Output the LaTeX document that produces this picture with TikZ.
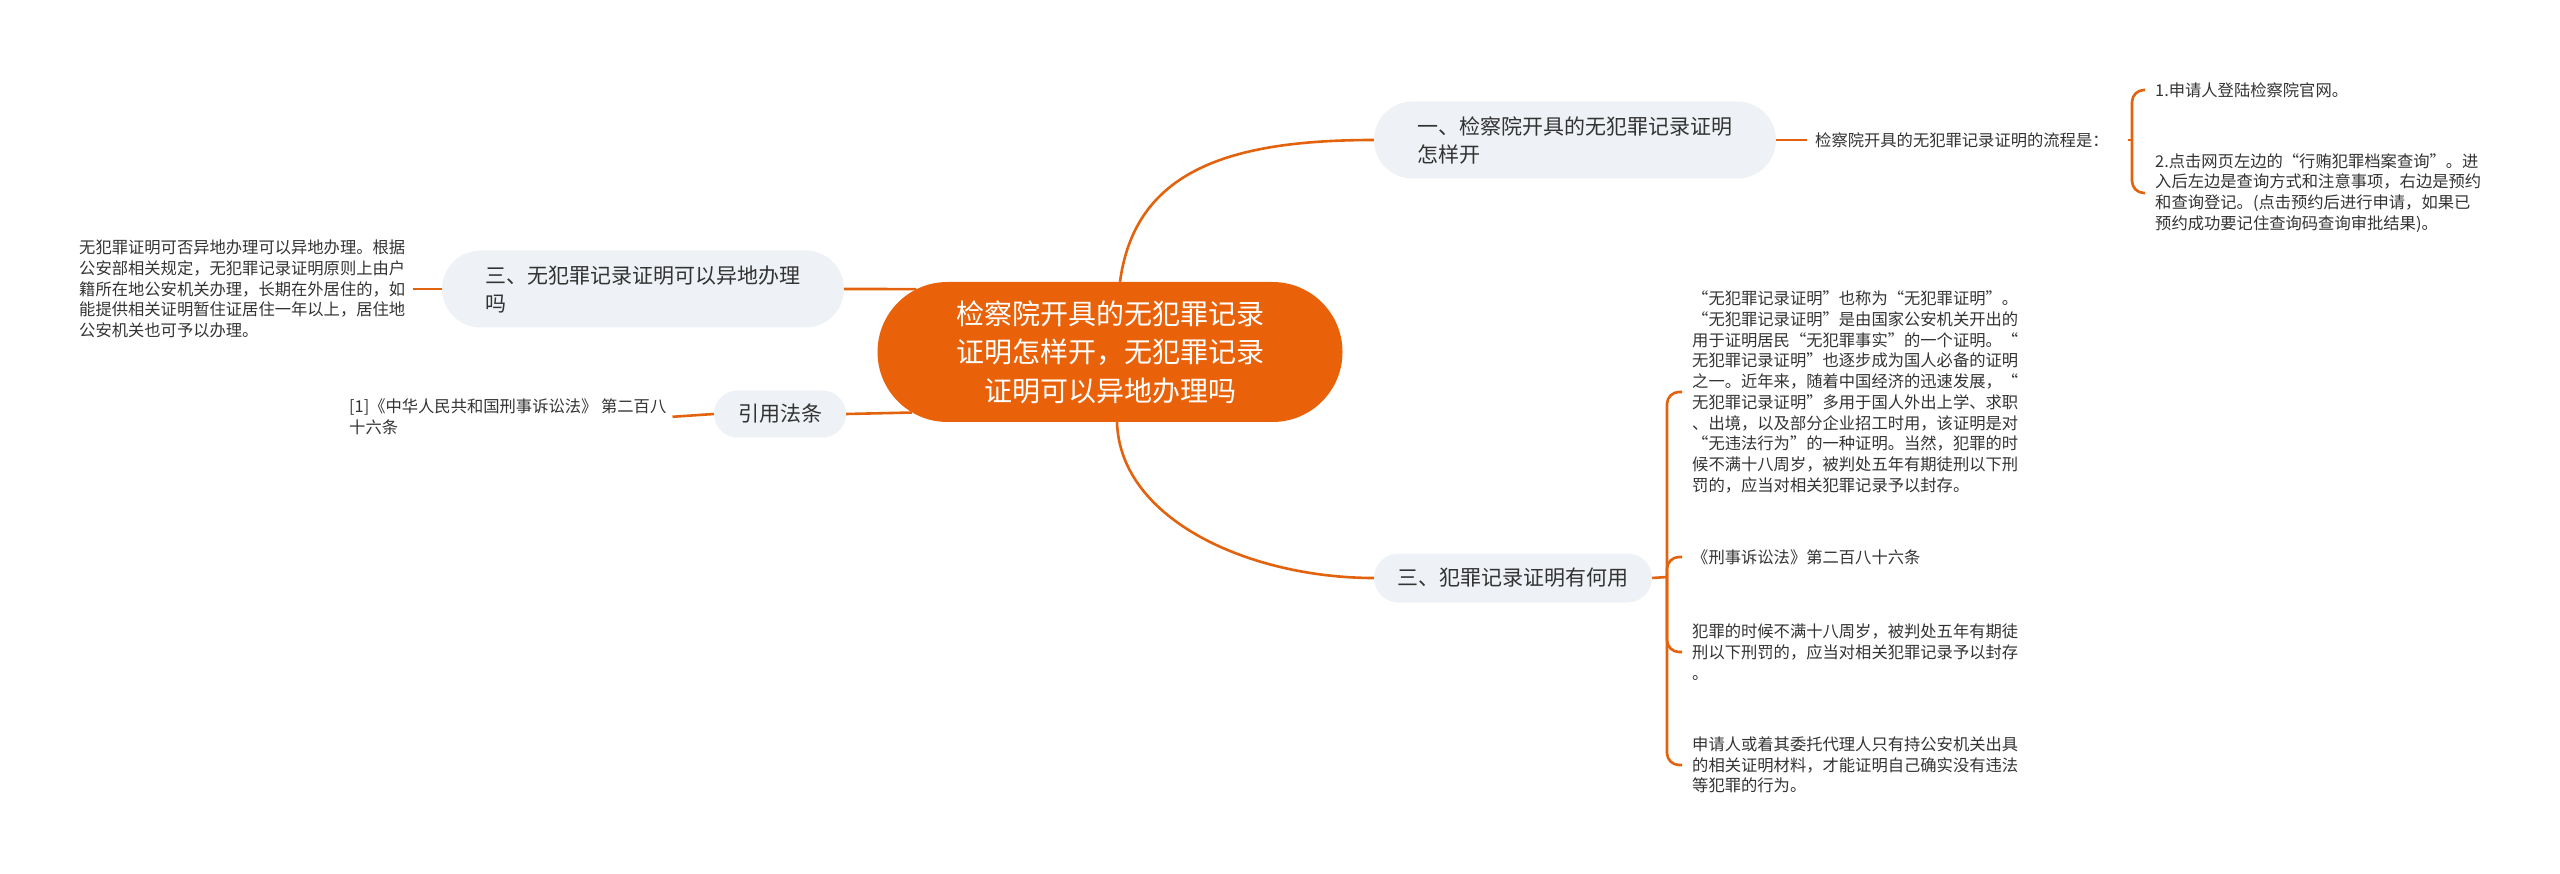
\documentclass[tikz,border=0pt]{standalone}
\usepackage{fontspec}
\setmainfont{Noto Sans CJK SC}
\usetikzlibrary{shapes.misc}
\definecolor{lineorange}{HTML}{E2620E}
\definecolor{rootorange}{HTML}{E9620A}
\definecolor{topicgray}{HTML}{EEF1F5}
\definecolor{textgray}{HTML}{333333}

\begin{document}
\begin{tikzpicture}[x=1pt,y=-1pt,
    link/.style={draw=lineorange,line width=2.6pt},
    brace/.style={link,rounded corners=12pt,shorten >=7pt},
    root/.style={rounded rectangle,fill=rootorange,text=white,inner xsep=0pt,align=center,font=\fontsize{28}{38.5}\selectfont},
    topic/.style={rounded rectangle,fill=topicgray,text=textgray,inner xsep=0pt,align=left,font=\fontsize{21}{28}\selectfont},
    leaf/.style={anchor=west,text=textgray,inner xsep=3pt,inner ysep=2pt,align=left,font=\fontsize{16.3}{20.7}\selectfont}]
      \useasboundingbox (0,0) rectangle (2560,874);
      \node[root,minimum width=465pt,minimum height=140pt] (root) at (1110,352) {检察院开具的无犯罪记录\\证明怎样开，无犯罪记录\\证明可以异地办理吗};
      \node[topic,minimum width=402pt,minimum height=77pt] (n1) at (1575,140) {一、检察院开具的无犯罪记录证明\\怎样开};
      \node[topic,minimum width=402pt,minimum height=77pt] (n2) at (643,289) {三、无犯罪记录证明可以异地办理\\吗};
      \node[topic,minimum width=278pt,minimum height=49pt] (n3) at (1513,578) {三、犯罪记录证明有何用};
      \node[topic,minimum width=132pt,minimum height=47pt] (n4) at (780,414) {引用法条};
      \node[leaf] (l1a) at (1812,140) {检察院开具的无犯罪记录证明的流程是：};
      \node[leaf] (l1b) at (2152,90) {1.申请人登陆检察院官网。};
      \node[leaf] (l1c) at (2152,193) {2.点击网页左边的“行贿犯罪档案查询”。进\\入后左边是查询方式和注意事项，右边是预约\\和查询登记。(点击预约后进行申请，如果已\\预约成功要记住查询码查询审批结果)。};
      \node[leaf] (l2) at (76,289) {无犯罪证明可否异地办理可以异地办理。根据\\公安部相关规定，无犯罪记录证明原则上由户\\籍所在地公安机关办理，长期在外居住的，如\\能提供相关证明暂住证居住一年以上，居住地\\公安机关也可予以办理。};
      \node[leaf] (l4) at (346,417) {[1]《中华人民共和国刑事诉讼法》 第二百八\\十六条};
      \node[leaf] (l3a) at (1689,392) {“无犯罪记录证明”也称为“无犯罪证明”。\\“无犯罪记录证明”是由国家公安机关开出的\\用于证明居民“无犯罪事实”的一个证明。“\\无犯罪记录证明”也逐步成为国人必备的证明\\之一。近年来，随着中国经济的迅速发展，“\\无犯罪记录证明”多用于国人外出上学、求职\\、出境，以及部分企业招工时用，该证明是对\\“无违法行为”的一种证明。当然，犯罪的时\\候不满十八周岁，被判处五年有期徒刑以下刑\\罚的，应当对相关犯罪记录予以封存。};
      \node[leaf] (l3b) at (1689,557) {《刑事诉讼法》第二百八十六条};
      \node[leaf] (l3c) at (1689,652) {犯罪的时候不满十八周岁，被判处五年有期徒\\刑以下刑罚的，应当对相关犯罪记录予以封存\\。};
      \node[leaf] (l3d) at (1689,765) {申请人或着其委托代理人只有持公安机关出具\\的相关证明材料，才能证明自己确实没有违法\\等犯罪的行为。};
      \coordinate (j1) at (2132,140);
      \coordinate (j3) at (1667,577);
      \draw[link] ([xshift=10pt]root.north) .. controls (1135,170) and (1230,140) .. (n1.west);
      \draw[link] ([xshift=7pt]root.south) .. controls (1120,520) and (1250,578) .. (n3.west);
      \draw[link] (root.162) -- (n2.east);
      \draw[link] (root.197) -- (n4.east);
      \draw[link,shorten <=5pt] (l2.east) -- (n2.west);
      \draw[link,shorten <=3pt] (l4.east) -- (n4.west);
      \draw[link,shorten >=5pt] (n1.east) -- (l1a.west);
      \draw[link,shorten <=16pt] (l1a.east) -- (j1);
      \foreach \c in {l1b,l1c} \draw[brace] (j1) |- (\c.west);
      \draw[link] (n3.east) -- (j3);
      \foreach \c in {l3a,l3b,l3c,l3d} \draw[brace] (j3) |- (\c.west);
    \end{tikzpicture}
\end{document}
